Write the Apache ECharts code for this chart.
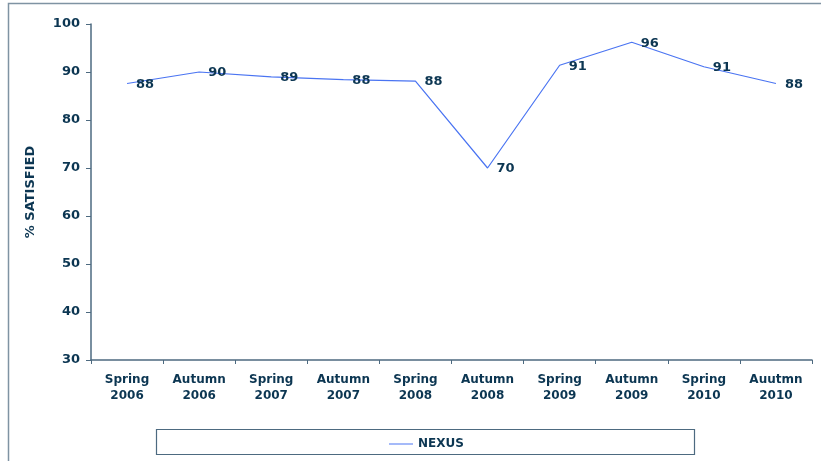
<!DOCTYPE html>
<html>
<head>
<meta charset="utf-8">
<script src="https://cdn.jsdelivr.net/npm/echarts@6/dist/echarts.min.js"></script>
<style>
  html, body { margin: 0; padding: 0; background: #fff; }
  #chart { width: 821px; height: 461px; }
</style>
</head>
<body>
<div id="chart"></div>
<script>
// survey periods (x axis)
let periods = ['Spring\n2006', 'Autumn\n2006', 'Spring\n2007', 'Autumn\n2007', 'Spring\n2008',
  'Autumn\n2008', 'Spring\n2009', 'Autumn\n2009', 'Spring\n2010', 'Auutmn\n2010']
// % satisfied
let nexus = [87.6, 90.0, 89.0, 88.4, 88.1, 70.0, 91.4, 96.2, 91.1, 87.6]
let seriesName = 'NEXUS'

let textColor = '#0c3652'
let axisColor = '#4d6a80'
let lineColor = '#4a74f2'
let font = 'DejaVu Sans'

let option = {
  animation: false,
  backgroundColor: '#fff',
  textStyle: { fontFamily: font },
  grid: { left: 91, right: 9, top: 24, bottom: 101 },
  graphic: [
    { type: 'rect', left: 6, top: 1, shape: { width: 840, height: 500 },
      style: { fill: null, stroke: '#7f93a3', lineWidth: 1.5 } },
    { type: 'rect', left: 154, top: 427, shape: { width: 538, height: 25 },
      style: { fill: null, stroke: '#4d6a80', lineWidth: 1.2 } }
  ],
  legend: {
    data: [{ name: seriesName, icon: 'rect' }],
    left: 384, top: 433,
    itemWidth: 24, itemHeight: 1, itemGap: 10,
    textStyle: { color: textColor, fontWeight: 'bold', fontSize: 12, fontFamily: font }
  },
  xAxis: {
    type: 'category',
    data: periods,
    boundaryGap: true,
    axisLine: { lineStyle: { color: axisColor, width: 1.5 } },
    axisTick: { show: true, length: 4, lineStyle: { color: axisColor } },
    axisLabel: { interval: 0, margin: 12, lineHeight: 16, color: textColor, fontWeight: 'bold', fontSize: 12, fontFamily: font }
  },
  yAxis: {
    type: 'value',
    min: 30, max: 100, interval: 10,
    name: '% SATISFIED',
    nameLocation: 'middle',
    nameGap: 54,
    nameTextStyle: { color: textColor, fontWeight: 'bold', fontSize: 13, fontFamily: font },
    splitLine: { show: false },
    axisLine: { show: true, lineStyle: { color: axisColor, width: 1.5 } },
    axisTick: { show: true, length: 5, lineStyle: { color: axisColor } },
    axisLabel: { margin: 11, color: textColor, fontWeight: 'bold', fontSize: 13, fontFamily: font }
  },
  series: [
    {
      name: seriesName,
      type: 'line',
      data: nexus,
      symbol: 'circle',
      symbolSize: 0,
      showSymbol: true,
      lineStyle: { color: lineColor, width: 1.2 },
      itemStyle: { color: lineColor },
      label: {
        show: true,
        position: 'right',
        distance: 9,
        offset: [0, 1],
        color: textColor,
        fontWeight: 'bold',
        fontSize: 13,
        fontFamily: font,
        formatter: function (p) { return Math.round(p.value) }
      }
    }
  ]
}

let myChart = echarts.init(document.getElementById('chart'))
myChart.setOption(option)
</script>
</body>
</html>
